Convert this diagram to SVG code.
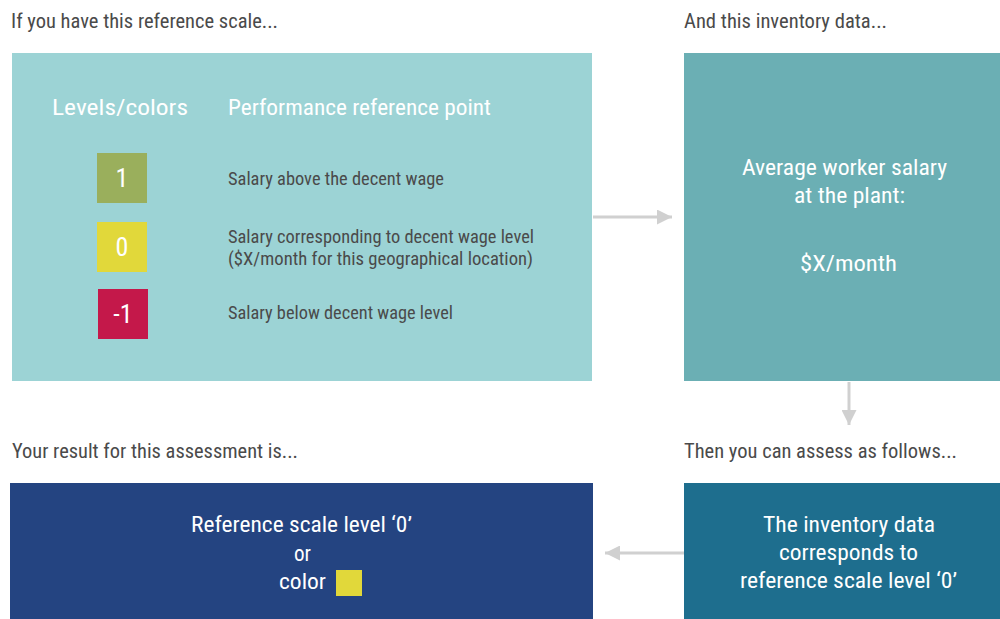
<svg xmlns="http://www.w3.org/2000/svg" width="1000" height="619" viewBox="0 0 1000 619">
<defs>
<style>
text{font-family:"Roboto Condensed",Roboto,"Liberation Sans",sans-serif}
.hd{font-size:20px;fill:#4a4a4a}
.w{fill:#fff}
.big{font-size:22.5px}
.sm{font-size:18px;fill:#4a4a4a}
.num{font-size:26px;fill:#fff}
.c{text-anchor:middle}
.conn{stroke:#d0d0d0;stroke-width:3;fill:none}
</style>
<marker id="ah" viewBox="0 0 10 10" refX="10" refY="5" markerWidth="5" markerHeight="5" markerUnits="strokeWidth" orient="auto">
<path d="M0,0L10,5L0,10z" fill="#d0d0d0"/>
</marker>
</defs>
<rect width="1000" height="619" fill="#fff"/>

<text class="hd" x="11" y="28" textLength="267" lengthAdjust="spacingAndGlyphs">If you have this reference scale...</text>
<text class="hd" x="684" y="28" textLength="203" lengthAdjust="spacingAndGlyphs">And this inventory data...</text>
<text class="hd" x="684" y="458" textLength="273" lengthAdjust="spacingAndGlyphs">Then you can assess as follows...</text>
<text class="hd" x="12" y="458" textLength="286" lengthAdjust="spacingAndGlyphs">Your result for this assessment is...</text>

<g id="scale">
<rect x="12" y="53" width="580" height="328" fill="#9cd3d5"/>
<text class="w big" x="52" y="115" textLength="136" lengthAdjust="spacingAndGlyphs">Levels/colors</text>
<text class="w big" x="228" y="115" textLength="263" lengthAdjust="spacingAndGlyphs">Performance reference point</text>
<rect x="97" y="153" width="50" height="50" fill="#9aaf5c"/>
<text class="num c" x="122" y="187">1</text>
<rect x="97" y="222" width="50" height="50" fill="#e1d83a"/>
<text class="num c" x="122" y="256">0</text>
<rect x="98" y="289" width="50" height="50" fill="#c4184a"/>
<text class="num c" x="123" y="323">-1</text>
<text class="sm" x="228" y="185" textLength="216" lengthAdjust="spacingAndGlyphs">Salary above the decent wage</text>
<text class="sm" x="228" y="243" textLength="306" lengthAdjust="spacingAndGlyphs">Salary corresponding to decent wage level</text>
<text class="sm" x="228" y="265" textLength="305" lengthAdjust="spacingAndGlyphs">($X/month for this geographical location)</text>
<text class="sm" x="228" y="319" textLength="225" lengthAdjust="spacingAndGlyphs">Salary below decent wage level</text>
</g>

<g id="inventory">
<rect x="684" y="53" width="316" height="328" fill="#6bafb4"/>
<text class="w big c" x="844.5" y="175" textLength="205" lengthAdjust="spacingAndGlyphs">Average worker salary</text>
<text class="w big c" x="849.5" y="203" textLength="111" lengthAdjust="spacingAndGlyphs">at the plant:</text>
<text class="w big c" x="848.5" y="271" textLength="97" lengthAdjust="spacingAndGlyphs">$X/month</text>
</g>

<g id="assess">
<rect x="684" y="483" width="316" height="136" fill="#1e6e8e"/>
<text class="w big c" x="849" y="532" textLength="172" lengthAdjust="spacingAndGlyphs">The inventory data</text>
<text class="w big c" x="848.5" y="560" textLength="139" lengthAdjust="spacingAndGlyphs">corresponds to</text>
<text class="w big c" x="848.5" y="588" textLength="217" lengthAdjust="spacingAndGlyphs">reference scale level ‘0’</text>
</g>

<g id="result">
<rect x="10" y="483" width="583" height="136" fill="#244481"/>
<text class="w big c" x="301.5" y="532" textLength="221" lengthAdjust="spacingAndGlyphs">Reference scale level ‘0’</text>
<text class="w big c" x="302.5" y="561" textLength="17" lengthAdjust="spacingAndGlyphs">or</text>
<text class="w big c" x="302.5" y="589" textLength="47" lengthAdjust="spacingAndGlyphs">color</text>
<rect x="336" y="570" width="26" height="26" fill="#e1d83a"/>
</g>

<g id="connectors">
<line class="conn" x1="593" y1="217" x2="672" y2="217" marker-end="url(#ah)"/>
<line class="conn" x1="849" y1="382" x2="849" y2="425" marker-end="url(#ah)"/>
<line class="conn" x1="684" y1="553" x2="605" y2="553" marker-end="url(#ah)"/>
</g>
</svg>
